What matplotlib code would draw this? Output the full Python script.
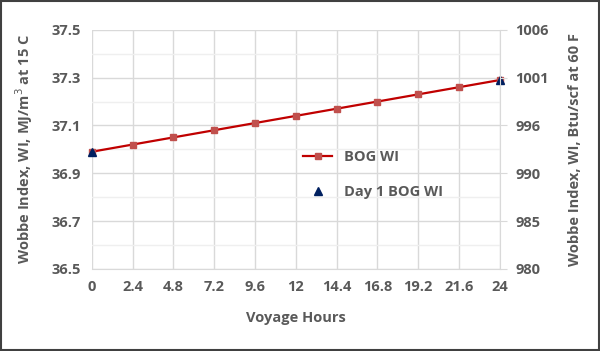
import numpy as np
import matplotlib
matplotlib.use("Agg")
import matplotlib.pyplot as plt
from matplotlib.ticker import MultipleLocator

plt.rcParams['font.family'] = ['Open Sans', 'DejaVu Sans']

hours = [0, 2.4, 4.8, 7.2, 9.6, 12, 14.4, 16.8, 19.2, 21.6, 24]
bog_wi = [36.99, 37.02, 37.05, 37.08, 37.11, 37.14, 37.17, 37.20, 37.23, 37.26, 37.29]
day1_hours = [0, 24]
day1_wi = [36.99, 37.29]
left_ticks = [36.5, 36.7, 36.9, 37.1, 37.3, 37.5]
right_labels = ["980", "985", "990", "996", "1001", "1006"]

txt = "#595959"
grid = "#d9d9d9"

fig = plt.figure(figsize=(6, 3.51), dpi=100)
ax = fig.add_axes([0.153, 0.234, 0.68, 0.681])

ax.plot(hours, bog_wi, color="#c00000", lw=1.6, marker="s", ms=5,
        mfc="#c0504d", mec="#c0504d", label="BOG WI", zorder=3, clip_on=False)
ax.plot(day1_hours, day1_wi, ls="none", marker="^", ms=6,
        color="#002060", label="Day 1 BOG WI", zorder=4, clip_on=False)

ax.set_xlim(0, 24)
ax.set_ylim(36.5, 37.5)
ax.set_xticks(hours)
ax.set_xticklabels([f"{h:g}" for h in hours])
ax.set_yticks(left_ticks)
ax.yaxis.set_minor_locator(MultipleLocator(0.1))
ax.grid(True, which="major", color=grid, lw=1)
ax.grid(True, which="minor", axis="y", color="#efefef", lw=1)
ax.set_axisbelow(True)
for s in ax.spines.values():
    s.set_visible(False)
ax.spines["bottom"].set_visible(True)
ax.spines["bottom"].set_color(grid)
ax.tick_params(length=0, colors=txt, labelsize=10.5, pad=8)
ax.tick_params(which="minor", length=0)
for lab in ax.get_xticklabels() + ax.get_yticklabels():
    lab.set_fontweight("bold")

ax.set_xlabel("Voyage Hours", color=txt, fontsize=10.5, fontweight="bold", labelpad=12)
ax.set_ylabel("Wobbe Index, WI, MJ/m$^3$ at 15 C", color=txt, fontsize=10.5,
              fontweight="bold", labelpad=12)

ax2 = ax.twinx()
ax2.set_ylim(36.5, 37.5)
ax2.set_yticks(left_ticks)
ax2.set_yticklabels(right_labels)
for s in ax2.spines.values():
    s.set_visible(False)
ax2.spines["right"].set_visible(True)
ax2.spines["right"].set_color(grid)
ax2.tick_params(axis="y", length=5, color=grid, colors=txt, labelsize=10.5, pad=6)
ax2.tick_params(axis="y", color=grid)
for lab in ax2.get_yticklabels():
    lab.set_fontweight("bold")
ax2.set_ylabel("Wobbe Index, WI, Btu/scf at 60 F", color=txt, fontsize=10.5,
               fontweight="bold", labelpad=14)

leg = ax.legend(loc="center left", bbox_to_anchor=(0.5, 0.395), frameon=False,
                fontsize=10.5, labelspacing=1.45, handlelength=2, borderpad=0)
for t in leg.get_texts():
    t.set_color(txt)
    t.set_fontweight("bold")

fig.patches.append(plt.Rectangle((0.002, 0.003), 0.996, 0.994, transform=fig.transFigure,
                                 fill=False, ec="#404040", lw=1.5))

fig.savefig("out.png", dpi=100)
